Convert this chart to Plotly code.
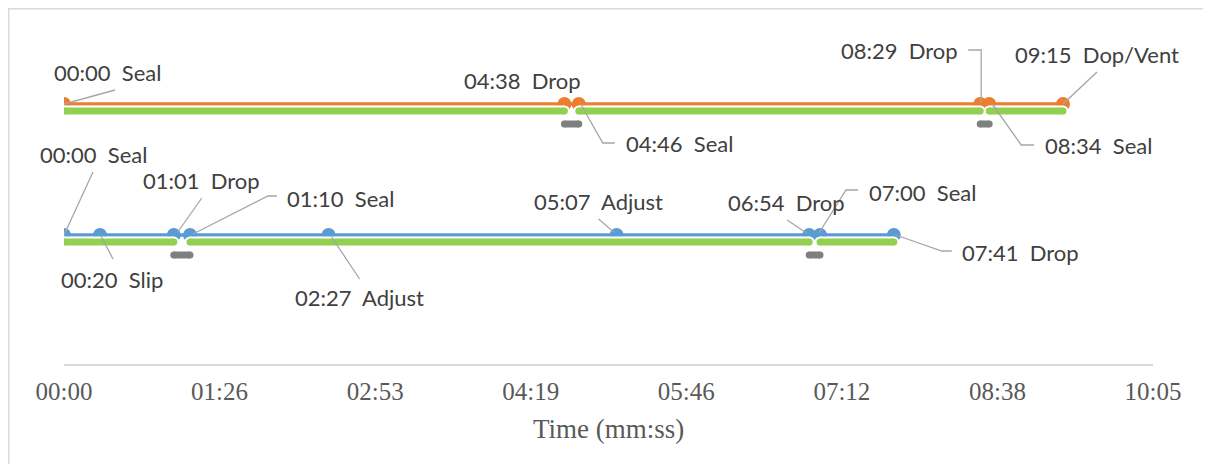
import plotly.graph_objects as go

# ---------------- data ----------------
tick_seconds = [0, 86.43, 172.86, 259.29, 345.71, 432.14, 518.57, 605]
tick_labels = ["00:00", "01:26", "02:53", "04:19", "05:46", "07:12", "08:38", "10:05"]

# upper (orange) run: event times in seconds and their labels
a_times = [0, 278, 286, 509, 514, 555]
a_labels = ["00:00  Seal", "04:38  Drop", "04:46  Seal", "08:29  Drop", "08:34  Seal", "09:15  Dop/Vent"]
a_active = [(0, 278), (286, 509), (514, 555)]
a_gaps = [(278, 286), (509, 514)]

# lower (blue) run
b_times = [0, 20, 61, 70, 147, 307, 414, 420, 461]
b_labels = ["00:00  Seal", "00:20  Slip", "01:01  Drop", "01:10  Seal", "02:27  Adjust",
            "05:07  Adjust", "06:54  Drop", "07:00  Seal", "07:41  Drop"]
b_active = [(0, 61), (70, 414), (420, 461)]
b_gaps = [(61, 70), (414, 420)]

# ---------------- layout / style ----------------
# the page body has an 8px margin, so the figure is drawn 8px smaller and offset
W, H = 1203, 456
ML, MR, MT, MB = 56, 58, 12, 100
PLOT_H = H - MT - MB
A_Y, B_Y = 260, 129          # row levels (y axis is in pixel units)
GREEN_OFF, GAP_OFF = 7, 20

ORANGE, BLUE, GREEN, GREY = "#ED7D31", "#5B9BD5", "#92D050", "#7F7F7F"
LEADER = "#A6A6A6"
LABEL_FONT = dict(family="Lato, Carlito, Calibri, sans-serif", size=22, color="#404040")
SERIF = "Liberation Serif, Times New Roman, serif"

# label placement: (dx, dy, xanchor, leader polyline) in pixels, dy positive = down
a_place = [
    (-12, -32, "left", [(0, 0), (51, -14)]),
    (19, -24, "right", None),
    (45, 39, "left", [(3, 2), (24, 39), (36, 39)]),
    (-20, -54, "right", [(1, -1), (1, -54), (-12, -54)]),
    (54, 41, "left", [(3, 0), (32, 41), (45, 41)]),
    (34, -50, "center", [(0, 0), (34, -32)]),
]
b_place = [
    (29, -81, "center", [(0, 0), (29, -63)]),
    (12, 44, "center", [(1, 1), (13, 24)]),
    (28, -55, "center", [(4, -3), (28, -37)]),
    (95, -37, "left", [(3, -1), (78, -39), (87, -39)]),
    (31, 62, "center", [(3, 2), (31, 44)]),
    (-18, -34, "center", [(-18, -16), (-3, -3)]),
    (-23, -33, "center", [(-22, -15), (-3, -2)]),
    (47, -43, "left", [(-1, -2), (26, -45), (38, -45)]),
    (66, 17, "left", [(2, 0), (48, 16), (58, 16)]),
]


def seg_xy(segs, level):
    xs, ys = [], []
    for s, e in segs:
        xs += [s, e, None]
        ys += [level, level, None]
    return xs, ys


fig = go.Figure()

for times, active, gaps, level, color in [
    (a_times, a_active, a_gaps, A_Y, ORANGE),
    (b_times, b_active, b_gaps, B_Y, BLUE),
]:
    fig.add_trace(go.Scatter(x=times, y=[level] * len(times), mode="lines+markers",
                             line=dict(color=color, width=3.5),
                             marker=dict(color=color, size=14), hoverinfo="skip"))
    gx, gy = seg_xy(active, level - GREEN_OFF)
    fig.add_trace(go.Scatter(x=gx, y=gy, mode="lines+markers",
                             line=dict(color="white", width=11),
                             marker=dict(color="white", size=11), hoverinfo="skip"))
    fig.add_trace(go.Scatter(x=gx, y=gy, mode="lines+markers",
                             line=dict(color=GREEN, width=7),
                             marker=dict(color=GREEN, size=7), hoverinfo="skip"))
    kx, ky = seg_xy(gaps, level - GAP_OFF)
    fig.add_trace(go.Scatter(x=kx, y=ky, mode="lines+markers",
                             line=dict(color=GREY, width=7),
                             marker=dict(color=GREY, size=7), hoverinfo="skip"))

shapes = []
annotations = []
for times, labels, place, level in [
    (a_times, a_labels, a_place, A_Y),
    (b_times, b_labels, b_place, B_Y),
]:
    for t, lab, (dx, dy, anc, leader) in zip(times, labels, place):
        annotations.append(dict(x=t, y=level, xref="x", yref="y", text=lab, showarrow=False,
                                xanchor=anc, yanchor="middle", xshift=dx, yshift=-dy,
                                font=LABEL_FONT))
        if leader:
            path = "M" + " L".join(f"{px},{-py}" for px, py in leader)
            shapes.append(dict(type="path", xref="x", yref="y", xsizemode="pixel",
                               ysizemode="pixel", xanchor=t, yanchor=level, path=path,
                               line=dict(color=LEADER, width=1.3), layer="above"))

# chart border (left/top/right edges; bottom runs off the page)
plot_w = W - ML - MR
shapes.append(dict(type="rect", xref="paper", yref="paper",
                   x0=(0.7 - ML) / plot_w, x1=(1199 - ML) / plot_w,
                   y0=-(H + 20 - MT - PLOT_H) / PLOT_H, y1=(H - MB - 0.7) / PLOT_H,
                   line=dict(color="#D9D9D9", width=1.4), layer="below"))

# axis title
annotations.append(dict(x=0.5, y=-65 / PLOT_H, xref="paper", yref="paper",
                        text="Time (mm:ss)", showarrow=False, xanchor="center", yanchor="middle",
                        font=dict(family=SERIF, size=27, color="#595959")))

fig.update_layout(
    width=W, height=H, margin=dict(l=ML, r=MR, t=MT, b=MB),
    paper_bgcolor="white", plot_bgcolor="white", showlegend=False,
    shapes=shapes, annotations=annotations,
    xaxis=dict(range=[0, 605], tickvals=tick_seconds, ticktext=tick_labels,
               showgrid=False, zeroline=False, showline=True, linecolor="#D9D9D9",
               linewidth=2, ticks="", ticklabelstandoff=4,
               tickfont=dict(family=SERIF, size=25, color="#595959")),
    yaxis=dict(range=[0, PLOT_H], visible=False),
)

fig.write_html("out.html")
